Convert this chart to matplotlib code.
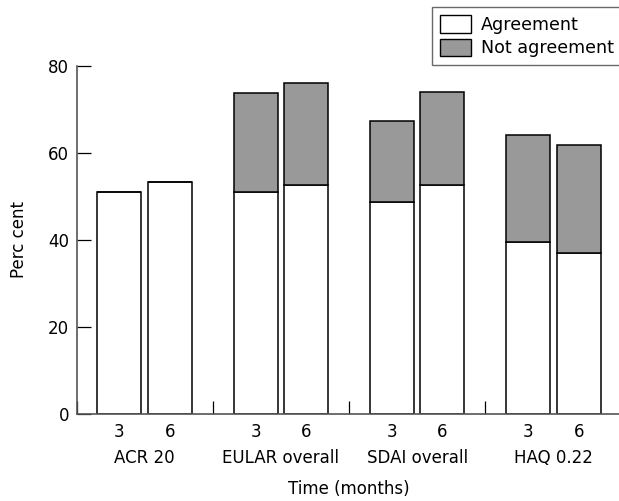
import numpy as np
import matplotlib
matplotlib.use('Agg')
import matplotlib.pyplot as plt
from matplotlib.patches import Patch

groups = ['ACR 20', 'EULAR overall', 'SDAI overall', 'HAQ 0.22']
months = ['3', '6']
# agreement part and total height (agreement + not agreement), per group: [3 months, 6 months]
agree_3 = [51.0, 51.0, 48.8, 39.5]
agree_6 = [53.2, 52.5, 52.5, 37.1]
total_3 = [51.0, 73.8, 67.4, 64.1]
total_6 = [53.2, 76.0, 73.9, 61.9]

plt.rcParams['font.family'] = 'DejaVu Sans'
plt.rcParams['font.size'] = 12

fig = plt.figure(figsize=(6.19, 5.01), dpi=100)
ax = fig.add_axes([0.1239, 0.173, 0.880, 0.696])

grey = '#999999'
w = 0.323
off = 0.186
x = np.arange(len(groups))

for xs, agr, tot in [(x - off, agree_3, total_3), (x + off, agree_6, total_6)]:
    agr = np.array(agr)
    tot = np.array(tot)
    ax.bar(xs, agr, w, color='white', edgecolor='black', linewidth=1.1)
    ax.bar(xs, tot - agr, w, bottom=agr, color=grey, edgecolor='black', linewidth=1.1)

ax.set_xlim(-0.5, len(groups) - 0.5)
ax.set_ylim(0, 80)
ax.set_yticks([0, 20, 40, 60, 80])

ticks = np.concatenate([x - off, x + off])
ax.set_xticks(ticks)
ax.set_xticklabels([months[0]] * len(x) + [months[1]] * len(x))
ax.set_xticks(np.arange(-0.5, len(groups)), minor=True)
ax.tick_params(axis='x', which='major', length=0, pad=6)
ax.tick_params(axis='x', which='minor', direction='in', length=9.5, width=0.9)
ax.tick_params(axis='y', direction='in', length=10, width=0.9, pad=5.5)

for xi, g in zip(x, groups):
    ax.annotate(g, xy=(xi, 0), xycoords=('data', 'axes fraction'),
                xytext=(0, -31.5), textcoords='offset points',
                ha='center', va='center')

ax.annotate('Time (months)', xy=(0.5, 0), xycoords='axes fraction',
            xytext=(0, -53.5), textcoords='offset points', ha='center', va='center')
ax.set_ylabel('Perc cent', labelpad=14)

for s in ['top', 'right']:
    ax.spines[s].set_visible(False)
for s in ['left', 'bottom']:
    ax.spines[s].set_color('#555555')
    ax.spines[s].set_linewidth(1.2)

handles = [Patch(facecolor='white', edgecolor='black', linewidth=1.0),
           Patch(facecolor=grey, edgecolor='black', linewidth=1.0)]
leg = fig.legend(handles, ['Agreement', 'Not agreement'], loc='upper left',
                 bbox_to_anchor=(432 / 619, 1 - 7.3 / 501), borderaxespad=0,
                 fancybox=False, fontsize=12.6, handlelength=1.75, handleheight=1.15,
                 handletextpad=0.6, labelspacing=0.28, borderpad=0.45)
leg.get_frame().set_edgecolor('#444444')
leg.get_frame().set_linewidth(1.0)

plt.savefig('out.png', dpi=100)
